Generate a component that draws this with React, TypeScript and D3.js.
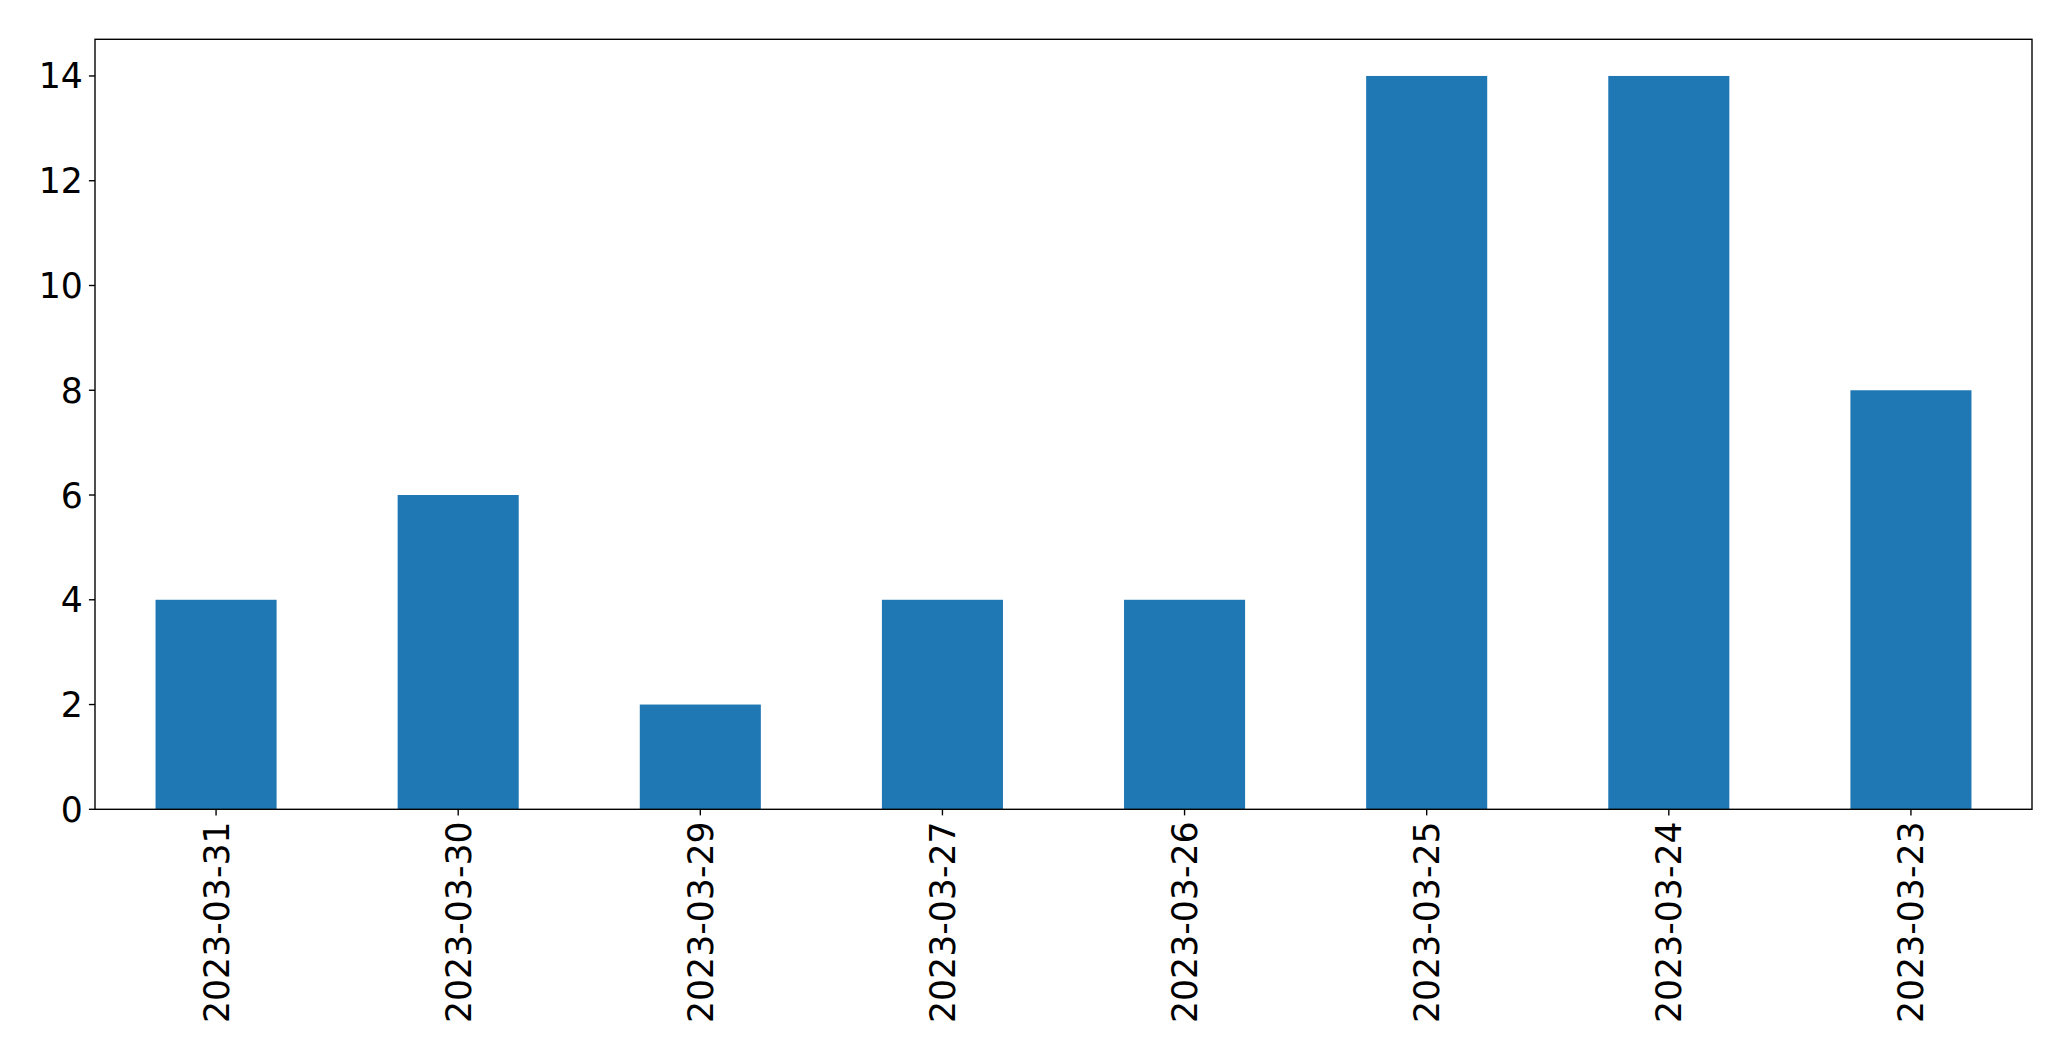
import React from "react";
import * as d3 from "d3";

const categories = ["2023-03-31", "2023-03-30", "2023-03-29", "2023-03-27", "2023-03-26", "2023-03-25", "2023-03-24", "2023-03-23"];
const values = [4, 6, 2, 4, 4, 14, 14, 8];
const yTicks = [0, 2, 4, 6, 8, 10, 12, 14];

const W = 2071;
const H = 1061;
const M = { left: 95, right: 2032, top: 39.3, bottom: 809.3 };
const FS = 34.7;
const TICK = 6.08;
const PAD = 6.08;
const LW = 1.39;

export default function App() {
  const x = d3.scaleLinear().domain([-0.5, categories.length - 0.5]).range([M.left, M.right]);
  const y = d3.scaleLinear().domain([0, d3.max(values)! * 1.05]).range([M.bottom, M.top]);
  const bw = x(0.25) - x(-0.25);
  return (
    <div style={{ position: "fixed", left: 0, top: 0 }}>
      <svg width={W} height={H} style={{ display: "block", background: "#fff" }} fontFamily="DejaVu Sans">
        {values.map((v, i) => (
          <rect key={i} x={x(i) - bw / 2} y={y(v)} width={bw} height={y(0) - y(v)} fill="#1f77b4" />
        ))}
        <rect x={M.left} y={M.top} width={M.right - M.left} height={M.bottom - M.top} fill="none" stroke="#000" strokeWidth={LW} />
        {yTicks.map((t) => (
          <g key={t}>
            <line x1={M.left - TICK} x2={M.left} y1={y(t)} y2={y(t)} stroke="#000" strokeWidth={LW} />
            <text x={M.left - TICK - PAD} y={y(t)} dy="0.36em" textAnchor="end" fontSize={FS} fill="#000">{t}</text>
          </g>
        ))}
        {categories.map((c, i) => (
          <g key={c}>
            <line x1={x(i)} x2={x(i)} y1={M.bottom} y2={M.bottom + TICK} stroke="#000" strokeWidth={LW} />
            <text transform={`translate(${x(i)},${M.bottom + TICK + PAD}) rotate(-90)`} dy="0.36em" textAnchor="end" fontSize={FS} fill="#000">{c}</text>
          </g>
        ))}
      </svg>
    </div>
  );
}
